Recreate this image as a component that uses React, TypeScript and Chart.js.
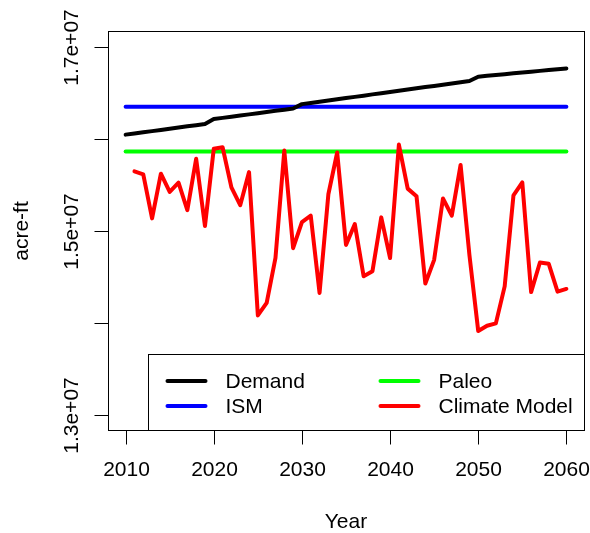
import React, { useEffect, useRef } from "react";
import { Chart, registerables } from "chart.js";

Chart.register(...registerables);

// ---------- data ----------
const years = [
  2010, 2011, 2012, 2013, 2014, 2015, 2016, 2017, 2018, 2019,
  2020, 2021, 2022, 2023, 2024, 2025, 2026, 2027, 2028, 2029,
  2030, 2031, 2032, 2033, 2034, 2035, 2036, 2037, 2038, 2039,
  2040, 2041, 2042, 2043, 2044, 2045, 2046, 2047, 2048, 2049,
  2050, 2051, 2052, 2053, 2054, 2055, 2056, 2057, 2058, 2059, 2060,
];

const demand = [
  16046000, 16059000, 16072000, 16084000, 16097000, 16110000, 16123000, 16136000, 16148000, 16161000,
  16215000, 16228000, 16241000, 16253000, 16266000, 16279000, 16292000, 16305000, 16317000, 16330000,
  16377000, 16390000, 16403000, 16417000, 16430000, 16443000, 16456000, 16469000, 16483000, 16496000,
  16509000, 16522000, 16535000, 16549000, 16562000, 16575000, 16588000, 16601000, 16615000, 16628000,
  16675000, 16684000, 16693000, 16702000, 16711000, 16720000, 16729000, 16738000, 16747000, 16756000, 16765000,
];

const ismYears = [2010, 2060];
const ism = [16348000, 16348000];

const paleoYears = [2010, 2060];
const paleo = [15863000, 15863000];

const climateYears = [
  2011, 2012, 2013, 2014, 2015, 2016, 2017, 2018, 2019, 2020,
  2021, 2022, 2023, 2024, 2025, 2026, 2027, 2028, 2029, 2030,
  2031, 2032, 2033, 2034, 2035, 2036, 2037, 2038, 2039, 2040,
  2041, 2042, 2043, 2044, 2045, 2046, 2047, 2048, 2049, 2050,
  2051, 2052, 2053, 2054, 2055, 2056, 2057, 2058, 2059, 2060,
];
const climate = [
  15647000, 15615000, 15137000, 15622000, 15424000, 15525000, 15226000, 15784000, 15054000, 15892000,
  15909000, 15474000, 15280000, 15639000, 14084000, 14220000, 14709000, 15873000, 14814000, 15097000,
  15167000, 14328000, 15399000, 15852000, 14849000, 15075000, 14509000, 14563000, 15148000, 14706000,
  15938000, 15460000, 15377000, 14429000, 14687000, 15353000, 15167000, 15717000, 14741000, 13914000,
  13972000, 13997000, 14399000, 15388000, 15528000, 14337000, 14658000, 14644000, 14342000, 14371000,
];

const xTicks = [2010, 2020, 2030, 2040, 2050, 2060];
const xTickLabels = ["2010", "2020", "2030", "2040", "2050", "2060"];
const yTicks = [13000000, 14000000, 15000000, 16000000, 17000000];
const yTickLabels = ["1.3e+07", "", "1.5e+07", "", "1.7e+07"];

const seriesNames = ["Demand", "ISM", "Paleo", "Climate Model"];
const seriesColors = ["#000000", "#0000FF", "#00FF00", "#FF0000"];

const xTitle = "Year";
const yTitle = "acre-ft";

// ---------- styling ----------
const FONT_FAMILY = '"Liberation Sans", Arial, Helvetica, sans-serif';
const FONT = `21px ${FONT_FAMILY}`;

const pairs = (xs: number[], ys: number[]) => xs.map((x, i) => ({ x, y: ys[i] }));

const rStyle = {
  id: "rStyle",
  afterDatasetsDraw(chart: any) {
    const { ctx, chartArea: a, scales } = chart;
    const xs = scales.x;
    const ys = scales.y;
    ctx.save();
    ctx.strokeStyle = "#000";
    ctx.fillStyle = "#000";
    ctx.lineWidth = 1;

    // legend box
    const L = Math.round(a.left) + 40.5;
    const T = 354.5;
    const R = Math.round(a.right) + 0.5;
    const B = Math.round(a.bottom) + 0.5;
    ctx.fillStyle = "#fff";
    ctx.fillRect(L, T, R - L, B - T);
    ctx.strokeRect(L, T, R - L, B - T);

    ctx.font = FONT;
    ctx.textBaseline = "middle";
    ctx.textAlign = "left";
    const colLine = [L + 19, L + 232];
    const colText = [L + 77, L + 290];
    const rowY = [T + 26.5, T + 51.5];
    seriesNames.forEach((name, i) => {
      const c = Math.floor(i / 2);
      const r = i % 2;
      ctx.strokeStyle = seriesColors[i];
      ctx.lineWidth = 4;
      ctx.lineCap = "round";
      ctx.beginPath();
      ctx.moveTo(colLine[c], rowY[r]);
      ctx.lineTo(colLine[c] + 38, rowY[r]);
      ctx.stroke();
      ctx.fillStyle = "#000";
      ctx.fillText(name, colText[c], rowY[r] + 1);
    });

    // plot box
    ctx.strokeStyle = "#000";
    ctx.lineWidth = 1;
    ctx.lineCap = "butt";
    const bl = Math.round(a.left) + 0.5;
    const bt = Math.round(a.top) - 0.5;
    const br = Math.round(a.right) + 0.5;
    const bb = Math.round(a.bottom) + 0.5;
    ctx.strokeRect(bl, bt, br - bl, bb - bt);

    // x ticks + labels
    ctx.fillStyle = "#000";
    ctx.textAlign = "center";
    ctx.textBaseline = "middle";
    xTicks.forEach((v, i) => {
      const px = Math.round(xs.getPixelForValue(v)) + 0.5;
      ctx.beginPath();
      ctx.moveTo(px, bb);
      ctx.lineTo(px, bb + 14);
      ctx.stroke();
      ctx.fillText(xTickLabels[i], px, bb + 40);
    });

    // y ticks + labels
    yTicks.forEach((v, i) => {
      const py = Math.round(ys.getPixelForValue(v)) + 0.5;
      ctx.beginPath();
      ctx.moveTo(bl, py);
      ctx.lineTo(bl - 14, py);
      ctx.stroke();
      if (yTickLabels[i]) {
        ctx.save();
        ctx.translate(bl - 36, py);
        ctx.rotate(-Math.PI / 2);
        ctx.fillText(yTickLabels[i], 0, 0);
        ctx.restore();
      }
    });

    // axis titles
    ctx.fillText(xTitle, (a.left + a.right) / 2, 522);
    ctx.save();
    ctx.translate(22, (a.top + a.bottom) / 2);
    ctx.rotate(-Math.PI / 2);
    ctx.fillText(yTitle, 0, 0);
    ctx.restore();

    ctx.restore();
  },
};

export default function App() {
  const ref = useRef<HTMLCanvasElement | null>(null);

  useEffect(() => {
    if (!ref.current) return;
    const seriesX = [years, ismYears, paleoYears, climateYears];
    const seriesY = [demand, ism, paleo, climate];
    const drawOrder = [0, 2, 3, 1];
    const chart = new Chart(ref.current, {
      type: "line",
      data: {
        datasets: seriesNames.map((name, i) => ({
          label: name,
          data: pairs(seriesX[i], seriesY[i]),
          borderColor: seriesColors[i],
          backgroundColor: seriesColors[i],
          borderWidth: 4,
          pointRadius: 0,
          tension: 0,
          fill: false,
          borderCapStyle: "round" as const,
          borderJoinStyle: "round" as const,
          order: drawOrder[i],
        })),
      },
      options: {
        animation: false,
        responsive: false,
        devicePixelRatio: 1,
        layout: { padding: { left: 108, top: 32, right: 6, bottom: 103 } },
        plugins: { legend: { display: false }, tooltip: { enabled: false } },
        scales: {
          x: { type: "linear", min: 2008, max: 2062, display: false },
          y: { type: "linear", min: 12840000, max: 17160000, display: false },
        },
      },
      plugins: [rStyle],
    });
    return () => chart.destroy();
  }, []);

  return (
    <div style={{ position: "absolute", left: 0, top: 0, width: 590, height: 533, background: "#fff" }}>
      <canvas ref={ref} width={590} height={533} style={{ width: 590, height: 533, display: "block" }} />
    </div>
  );
}
